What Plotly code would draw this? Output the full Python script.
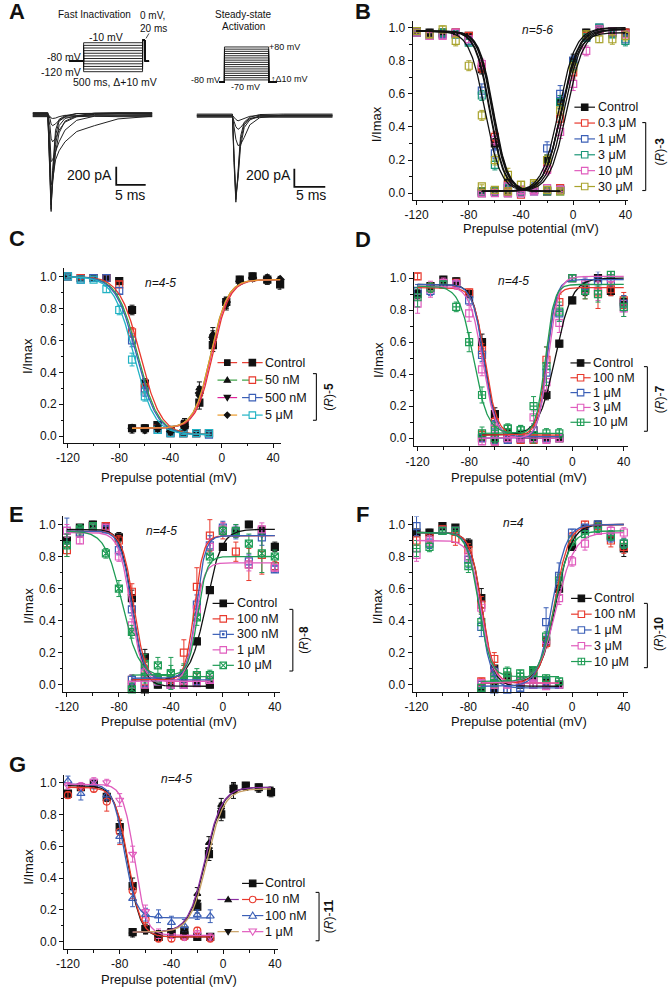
import numpy as np
import plotly.graph_objects as go

W, H = 672, 991
FONT = "Liberation Sans, Arial, Helvetica, sans-serif"
K = "#111111"
RED = "#e8392d"; BLUE = "#3b5fb6"; TEAL = "#1b9678"; PINK = "#e05cbd"; OLIVE = "#a9a32c"
GREEN = "#1f9c55"; CYAN = "#22b3c4"; MAGENTA = "#e0259b"; ORANGE = "#eb9a2a"
PURPLE = "#8b2fa3"; TAN = "#c9a165"; LGREEN = "#3aa043"

# ======================= DATA =======================
# ---- Panel A: protocols and current traces ----
FI_STEPS = [-120, -110, -100, -90, -80, -70, -60, -50, -40, -30, -20, -10]      # mV
FI_HOLD, FI_TEST = -80, 0
FI_DUR = [125, 500, 20, 35]            # holding, prepulse (500 ms), test (20 ms), tail
SSA_STEPS = [-70, -60, -50, -40, -30, -20, -10, 0, 10, 20, 30, 40, 50, 60, 70, 80]
SSA_HOLD = -80
SSA_DUR = [6, 50, 9]

FI_T = [0, 2.6, 2.95, 3.15, 3.4, 3.9, 4.5, 5.5, 7.5, 10.5, 14.5, 20.3]          # ms
FI_I = [                                                                         # pA
    [20, 20, -700, -1075, -620, -170, -50, -10, 15, 20, 20, 20],
    [-20, -20, -650, -1050, -680, -230, -70, -25, -20, -15, -20, -20],
    [5, 5, -600, -1000, -730, -330, -120, -40, -10, 5, 10, 5],
    [25, 25, -520, -930, -770, -420, -200, -70, -10, 20, 25, 25],
    [-15, -15, -380, -780, -720, -500, -400, -300, -185, -120, -45, -15],
    [-10, -10, -250, -520, -500, -400, -300, -170, -60, -15, -10, -10],
    [10, 10, -120, -260, -300, -260, -170, -80, -20, 10, 10, 10],
    [15, 15, -40, -100, -120, -100, -60, -20, 15, 15, 15, 15],
    [-5, -5, -15, -35, -40, -35, -20, -5, -5, -5, -5, -5],
]
SSA_T = [0, 5.8, 6.05, 6.35, 6.7, 7.1, 7.7, 8.6, 10.2, 14.0, 22.0]
SSA_I = [
    [20, 20, -520, -960, -620, -230, -70, -15, 15, 20, 20],
    [-15, -15, -470, -930, -660, -280, -100, -30, -15, -15, -15],
    [0, 0, -420, -880, -700, -340, -130, -45, 0, 0, 0],
    [10, 10, -120, -260, -330, -320, -240, -100, -20, 10, 10],
    [-5, -5, -60, -120, -150, -130, -80, -30, -5, -5, -5],
    [5, 5, -15, -40, -55, -45, -25, -5, 5, 5, 5],
]
SCALE_PA, SCALE_MS = 200, 5

# ---- Prepulse potentials ----
V_INACT = [-120, -110, -100, -90, -80, -70, -60, -50, -40, -30, -20, -10]
V_ACT = [-70, -60, -50, -40, -30, -20, -10, 0, 10, 20, 30, 40]
C_V_ACT = [-70, -60, -50, -40, -29, -17.5, -7, 3.5, 14, 24, 35.5, 45.5]
G_V_ACT = [-70, -60, -50, -40, -30, -20, -11, -1.5, 8, 17.5, 27.5, 37]

# ---- Panel B: (R)-3 ----
B_LABELS = ["Control", "0.3 μM", "1 μM", "3 μM", "10 μM", "30 μM"]
B_INACT = [
    [0.98, 0.97, 0.97, 0.97, 0.95, 0.75, 0.30, 0.06, 0.02, 0.02, 0.01, 0.02],
    [0.97, 0.96, 0.96, 0.97, 0.95, 0.76, 0.34, 0.05, 0.01, 0.02, 0.01, 0.03],
    [0.97, 0.96, 0.96, 0.96, 0.92, 0.62, 0.24, 0.03, 0.00, 0.01, 0.02, 0.02],
    [0.97, 0.95, 0.97, 0.96, 0.91, 0.59, 0.17, 0.04, 0.01, 0.02, 0.01, 0.01],
    [0.97, 0.95, 0.95, 0.97, 0.93, 0.78, 0.32, 0.04, 0.02, 0.01, 0.03, 0.02],
    [0.98, 0.96, 0.99, 0.92, 0.77, 0.47, 0.20, 0.11, 0.05, 0.06, 0.02, 0.01],
]
B_INACT_ERR = [
    [0.01, 0.02, 0.02, 0.01, 0.02, 0.03, 0.03, 0.02, 0.01, 0.01, 0.01, 0.01],
    [0.01, 0.02, 0.02, 0.02, 0.02, 0.03, 0.03, 0.02, 0.01, 0.01, 0.01, 0.01],
    [0.01, 0.02, 0.02, 0.02, 0.02, 0.04, 0.03, 0.02, 0.01, 0.01, 0.01, 0.01],
    [0.01, 0.02, 0.02, 0.02, 0.02, 0.03, 0.03, 0.02, 0.01, 0.01, 0.01, 0.01],
    [0.01, 0.02, 0.02, 0.02, 0.02, 0.03, 0.03, 0.02, 0.01, 0.01, 0.01, 0.01],
    [0.01, 0.02, 0.02, 0.03, 0.03, 0.03, 0.03, 0.04, 0.02, 0.02, 0.01, 0.01],
]
B_ACT = [
    [0.01, 0.01, 0.01, 0.01, 0.03, 0.20, 0.55, 0.80, 0.97, 0.99, 0.98, 0.97],
    [0.00, 0.01, 0.00, -0.01, 0.03, 0.15, 0.45, 0.73, 0.95, 0.99, 0.97, 0.97],
    [0.00, 0.01, 0.00, 0.01, 0.04, 0.27, 0.60, 0.80, 0.94, 1.00, 0.97, 0.93],
    [0.01, 0.01, 0.03, 0.01, 0.03, 0.20, 0.55, 0.77, 0.94, 1.00, 0.96, 0.92],
    [0.00, 0.00, 0.00, 0.00, 0.02, 0.14, 0.37, 0.66, 0.86, 0.99, 0.98, 0.96],
    [0.04, 0.02, 0.01, 0.05, 0.06, 0.20, 0.50, 0.76, 0.96, 0.93, 0.93, 0.95],
]
B_ACT_ERR = [
    [0.01, 0.01, 0.01, 0.01, 0.01, 0.03, 0.04, 0.04, 0.02, 0.01, 0.02, 0.02],
    [0.01, 0.01, 0.01, 0.01, 0.01, 0.03, 0.04, 0.04, 0.02, 0.01, 0.02, 0.02],
    [0.01, 0.01, 0.01, 0.01, 0.01, 0.04, 0.05, 0.03, 0.02, 0.01, 0.02, 0.03],
    [0.01, 0.01, 0.01, 0.01, 0.01, 0.03, 0.04, 0.03, 0.02, 0.01, 0.02, 0.03],
    [0.01, 0.01, 0.01, 0.01, 0.01, 0.03, 0.04, 0.04, 0.03, 0.01, 0.02, 0.02],
    [0.01, 0.01, 0.01, 0.02, 0.01, 0.03, 0.04, 0.03, 0.02, 0.02, 0.03, 0.03],
]
# Boltzmann fits (V1/2 mV, slope k, top, bottom)
B_INACT_FIT = [(-61, 5.5, 0.98, 0.01), (-61.5, 5.5, 0.98, 0.01), (-63.5, 5.5, 0.98, 0.01),
               (-64, 5.5, 0.98, 0.01), (-62, 5.5, 0.98, 0.01), (-67.5, 6, 0.98, 0.01)]
B_ACT_FIT = [(-9, 6.5, 1.0, 0.01), (-7, 6.5, 0.99, 0.01), (-11, 6.5, 1.0, 0.01),
             (-9, 6.5, 0.99, 0.01), (-5, 6.5, 0.99, 0.01), (-9, 6.5, 0.97, 0.01)]

# ---- Panel C: (R)-5 ----
C_LABELS = ["Control", "50 nM", "500 nM", "5 μM"]
C_INACT = [
    [1.00, 0.99, 0.99, 0.99, 0.97, 0.79, 0.33, 0.07, 0.03, 0.02, 0.02, 0.02],
    [1.00, 0.99, 0.99, 0.99, 0.95, 0.65, 0.30, 0.05, 0.02, 0.02, 0.02, 0.02],
    [1.00, 0.98, 0.99, 0.99, 0.91, 0.60, 0.28, 0.04, 0.02, 0.02, 0.02, 0.01],
    [1.00, 0.98, 0.98, 0.92, 0.79, 0.48, 0.25, 0.04, 0.02, 0.02, 0.02, 0.02],
]
C_INACT_ERR = [
    [0.01, 0.01, 0.01, 0.02, 0.02, 0.03, 0.03, 0.02, 0.01, 0.01, 0.01, 0.01],
    [0.01, 0.01, 0.01, 0.02, 0.02, 0.03, 0.03, 0.02, 0.01, 0.01, 0.01, 0.01],
    [0.01, 0.01, 0.01, 0.02, 0.02, 0.04, 0.03, 0.02, 0.01, 0.01, 0.01, 0.01],
    [0.01, 0.01, 0.01, 0.02, 0.03, 0.04, 0.03, 0.02, 0.01, 0.01, 0.01, 0.01],
]
C_ACT = [
    [0.05, 0.05, 0.07, 0.04, 0.07, 0.21, 0.57, 0.84, 0.98, 1.00, 0.98, 0.95],
    [0.05, 0.05, 0.06, 0.03, 0.08, 0.30, 0.64, 0.83, 0.98, 1.00, 0.97, 0.97],
    [0.04, 0.05, 0.06, 0.04, 0.09, 0.25, 0.60, 0.82, 0.97, 0.99, 0.98, 0.96],
    [0.05, 0.04, 0.05, 0.03, 0.06, 0.27, 0.62, 0.84, 0.97, 0.99, 0.99, 0.98],
]
C_ACT_ERR = [
    [0.02, 0.02, 0.02, 0.02, 0.02, 0.04, 0.04, 0.03, 0.02, 0.02, 0.02, 0.03],
    [0.02, 0.02, 0.02, 0.02, 0.03, 0.04, 0.04, 0.03, 0.02, 0.02, 0.02, 0.02],
    [0.02, 0.02, 0.02, 0.02, 0.02, 0.04, 0.04, 0.03, 0.02, 0.02, 0.02, 0.02],
    [0.02, 0.02, 0.02, 0.02, 0.02, 0.04, 0.04, 0.03, 0.02, 0.02, 0.02, 0.02],
]
C_INACT_FIT = [(-63.5, 8, 1.0, 0.01), (-65.5, 8, 1.0, 0.01), (-66.5, 8, 1.0, 0.01), (-68.5, 8, 1.0, 0.01)]
C_ACT_FIT = [(-7, 6.5, 0.98, 0.05), (-8.5, 6.5, 0.98, 0.05), (-8, 6.5, 0.98, 0.05), (-8.5, 6.5, 0.98, 0.05)]

# ---- Panel D: (R)-7 ----
D_LABELS = ["Control", "100 nM", "1 μM", "3 μM", "10 μM"]
D_INACT = [
    [0.90, 0.95, 0.99, 0.98, 0.90, 0.60, 0.15, 0.03, 0.02, 0.00, 0.00, 0.00],
    [1.01, 0.94, 0.96, 0.97, 0.91, 0.55, 0.10, 0.02, 0.00, -0.01, 0.00, 0.00],
    [0.92, 0.92, 0.96, 0.96, 0.86, 0.52, 0.08, 0.00, 0.00, 0.00, 0.00, 0.00],
    [0.84, 0.93, 0.97, 0.96, 0.78, 0.43, 0.06, 0.02, 0.00, 0.00, -0.01, 0.00],
    [0.88, 0.94, 0.96, 0.82, 0.60, 0.27, 0.05, 0.06, 0.05, 0.02, 0.03, 0.03],
]
D_INACT_ERR = [
    [0.03, 0.02, 0.02, 0.02, 0.02, 0.05, 0.04, 0.02, 0.02, 0.02, 0.02, 0.02],
    [0.02, 0.03, 0.02, 0.02, 0.02, 0.04, 0.03, 0.02, 0.02, 0.02, 0.02, 0.02],
    [0.04, 0.03, 0.02, 0.02, 0.03, 0.04, 0.03, 0.02, 0.02, 0.02, 0.02, 0.02],
    [0.06, 0.05, 0.03, 0.03, 0.05, 0.04, 0.03, 0.02, 0.02, 0.02, 0.02, 0.02],
    [0.06, 0.03, 0.02, 0.03, 0.06, 0.05, 0.05, 0.03, 0.03, 0.05, 0.03, 0.03],
]
D_ACT = [
    [0.00, -0.01, 0.00, 0.00, 0.02, 0.27, 0.59, 0.86, 0.93, 1.00, 0.92, 0.85],
    [0.02, -0.02, 0.00, -0.01, 0.05, 0.49, 0.85, 1.00, 0.93, 0.91, 0.93, 0.86],
    [0.00, -0.01, -0.01, 0.00, 0.05, 0.41, 0.78, 1.00, 0.95, 0.98, 0.98, 0.84],
    [-0.02, -0.02, 0.00, 0.01, 0.13, 0.35, 0.72, 1.00, 0.96, 0.92, 1.00, 0.81],
    [0.03, 0.00, 0.06, 0.05, 0.20, 0.45, 0.79, 1.00, 0.92, 0.90, 1.02, 0.82],
]
D_ACT_ERR = [
    [0.02, 0.02, 0.02, 0.02, 0.02, 0.03, 0.02, 0.02, 0.04, 0.02, 0.03, 0.04],
    [0.03, 0.03, 0.02, 0.02, 0.03, 0.08, 0.05, 0.02, 0.06, 0.10, 0.04, 0.05],
    [0.02, 0.03, 0.02, 0.02, 0.04, 0.06, 0.05, 0.02, 0.05, 0.06, 0.04, 0.05],
    [0.02, 0.03, 0.02, 0.02, 0.04, 0.06, 0.06, 0.02, 0.05, 0.06, 0.04, 0.05],
    [0.04, 0.03, 0.02, 0.03, 0.06, 0.12, 0.06, 0.02, 0.05, 0.05, 0.03, 0.06],
]
D_INACT_FIT = [(-68, 4.5, 0.96, 0.00), (-67.5, 4.5, 0.94, 0.02), (-68.5, 4.5, 0.96, 0.01),
               (-69.5, 5, 0.95, 0.00), (-76.5, 5.5, 0.95, 0.03)]
D_ACT_FIT = [(-13, 6.5, 1.0, 0.02), (-20.5, 3.5, 0.94, 0.02), (-19.5, 3.5, 0.99, 0.00),
             (-18.5, 4, 1.01, 0.00), (-21, 3.5, 0.96, 0.03)]

# ---- Panel E: (R)-8 ----
E_LABELS = ["Control", "100 nM", "300 nM", "1 μM", "10 μM"]
E_INACT = [
    [0.90, 0.98, 1.00, 0.99, 0.92, 0.54, 0.17, 0.04, 0.02, 0.00, 0.02, 0.00],
    [0.84, 0.95, 0.99, 0.99, 0.90, 0.58, 0.12, 0.03, 0.00, 0.02, 0.05, 0.03],
    [0.96, 0.95, 0.99, 0.97, 0.84, 0.47, 0.08, 0.04, 0.01, 0.00, 0.02, 0.03],
    [0.96, 0.90, 0.98, 0.98, 0.80, 0.37, 0.07, 0.03, 0.00, 0.00, 0.01, 0.03],
    [0.87, 0.97, 0.99, 0.82, 0.60, 0.33, 0.13, 0.12, 0.07, 0.06, 0.06, 0.06],
]
E_INACT_ERR = [
    [0.04, 0.02, 0.02, 0.02, 0.03, 0.05, 0.05, 0.03, 0.02, 0.02, 0.02, 0.02],
    [0.04, 0.03, 0.02, 0.02, 0.03, 0.05, 0.04, 0.03, 0.02, 0.02, 0.02, 0.02],
    [0.08, 0.03, 0.02, 0.02, 0.03, 0.04, 0.03, 0.02, 0.02, 0.02, 0.02, 0.02],
    [0.04, 0.02, 0.02, 0.02, 0.03, 0.04, 0.03, 0.02, 0.02, 0.02, 0.02, 0.02],
    [0.07, 0.03, 0.02, 0.03, 0.05, 0.04, 0.06, 0.05, 0.10, 0.07, 0.04, 0.03],
]
E_ACT = [
    [-0.02, -0.03, 0.00, 0.00, 0.02, 0.27, 0.59, 0.86, 0.95, 1.00, 0.96, 0.86],
    [0.03, 0.02, 0.03, 0.03, 0.20, 0.61, 0.93, 0.96, 0.83, 0.75, 0.81, 0.74],
    [0.03, 0.01, 0.02, 0.00, 0.04, 0.50, 0.87, 0.98, 0.95, 0.77, 0.92, 0.72],
    [0.00, 0.00, 0.02, 0.01, 0.03, 0.47, 0.86, 0.97, 0.96, 0.75, 0.97, 0.73],
    [-0.03, 0.05, 0.03, 0.07, 0.07, 0.42, 0.80, 0.96, 0.96, 0.88, 0.82, 0.80],
]
E_ACT_ERR = [
    [0.02, 0.02, 0.02, 0.02, 0.02, 0.02, 0.02, 0.02, 0.03, 0.02, 0.03, 0.03],
    [0.03, 0.03, 0.02, 0.02, 0.08, 0.12, 0.10, 0.05, 0.06, 0.10, 0.12, 0.03],
    [0.03, 0.02, 0.02, 0.02, 0.03, 0.06, 0.06, 0.04, 0.04, 0.04, 0.05, 0.02],
    [0.02, 0.02, 0.02, 0.02, 0.03, 0.06, 0.05, 0.04, 0.04, 0.04, 0.04, 0.02],
    [0.04, 0.04, 0.03, 0.05, 0.05, 0.05, 0.04, 0.03, 0.04, 0.06, 0.12, 0.04],
]
E_INACT_FIT = [(-69.5, 4.5, 0.97, -0.01), (-68.5, 4.5, 0.96, 0.02), (-70, 4.5, 0.96, 0.03),
               (-71, 4.5, 0.95, 0.02), (-77.5, 6.5, 0.96, 0.05)]
E_ACT_FIT = [(-13, 6, 0.97, 0.03), (-22, 3.5, 0.93, 0.03), (-20.5, 3.5, 0.93, 0.04),
             (-21.5, 3.5, 0.76, 0.02), (-19.5, 3.5, 0.80, 0.06)]

# ---- Panel F: (R)-10 ----
F_LABELS = ["Control", "100 nM", "1 μM", "3 μM", "10 μM"]
F_INACT = [
    [0.95, 0.95, 0.99, 0.98, 0.88, 0.54, 0.10, 0.04, 0.02, 0.05, 0.02, 0.00],
    [0.90, 0.92, 0.97, 0.91, 0.84, 0.50, 0.16, 0.05, 0.02, 0.00, 0.00, 0.00],
    [0.99, 0.88, 0.96, 0.96, 0.78, 0.36, 0.08, -0.03, -0.02, 0.00, 0.02, 0.00],
    [0.81, 0.90, 0.96, 0.96, 0.80, 0.48, 0.07, 0.00, 0.02, 0.00, -0.01, 0.00],
    [0.85, 0.86, 0.96, 0.96, 0.74, 0.39, 0.05, 0.08, 0.07, 0.08, 0.04, 0.02],
]
F_INACT_ERR = [
    [0.02, 0.02, 0.02, 0.02, 0.03, 0.06, 0.04, 0.02, 0.02, 0.02, 0.02, 0.02],
    [0.03, 0.03, 0.02, 0.04, 0.04, 0.05, 0.04, 0.02, 0.02, 0.02, 0.02, 0.02],
    [0.06, 0.03, 0.02, 0.02, 0.05, 0.06, 0.03, 0.02, 0.02, 0.02, 0.02, 0.02],
    [0.04, 0.03, 0.02, 0.02, 0.03, 0.04, 0.03, 0.02, 0.02, 0.02, 0.02, 0.02],
    [0.05, 0.03, 0.02, 0.02, 0.04, 0.05, 0.03, 0.03, 0.02, 0.03, 0.02, 0.02],
]
F_ACT = [
    [-0.02, -0.02, 0.03, 0.00, 0.09, 0.27, 0.60, 0.86, 0.97, 1.00, 0.93, 0.85],
    [0.02, 0.00, 0.05, 0.01, 0.04, 0.26, 0.65, 0.92, 1.00, 0.99, 0.90, 0.86],
    [0.00, -0.03, -0.03, 0.01, 0.03, 0.39, 0.68, 0.95, 0.98, 1.00, 0.92, 0.88],
    [0.01, 0.00, 0.03, 0.02, 0.05, 0.28, 0.54, 0.77, 0.88, 0.96, 0.96, 0.95],
    [-0.02, 0.01, 0.05, 0.05, 0.09, 0.30, 0.65, 0.90, 0.94, 0.98, 0.93, 0.88],
]
F_ACT_ERR = [
    [0.02, 0.02, 0.02, 0.02, 0.02, 0.03, 0.04, 0.02, 0.02, 0.02, 0.03, 0.05],
    [0.02, 0.02, 0.02, 0.02, 0.02, 0.03, 0.05, 0.03, 0.02, 0.02, 0.04, 0.04],
    [0.02, 0.02, 0.02, 0.02, 0.02, 0.09, 0.08, 0.02, 0.02, 0.02, 0.03, 0.03],
    [0.02, 0.02, 0.02, 0.02, 0.02, 0.03, 0.04, 0.03, 0.04, 0.02, 0.03, 0.03],
    [0.02, 0.02, 0.02, 0.02, 0.02, 0.03, 0.04, 0.03, 0.02, 0.03, 0.03, 0.03],
]
F_INACT_FIT = [(-69.5, 4.5, 0.95, -0.01), (-69.5, 4.5, 0.95, 0.01), (-71, 4.5, 0.95, -0.02),
               (-70, 4.5, 0.90, 0.01), (-72, 4.5, 0.95, 0.05)]
F_ACT_FIT = [(-12.5, 6, 1.0, 0.01), (-13.5, 5.5, 1.0, 0.01), (-15.5, 5.5, 1.0, -0.01),
             (-12, 7, 0.95, 0.01), (-13.5, 6, 0.96, 0.02)]

# ---- Panel G: (R)-11 ----
G_LABELS = ["Control", "10 nM", "100 nM", "1 μM"]
G_INACT = [
    [0.93, 0.97, 0.99, 0.91, 0.72, 0.35, 0.08, 0.03, 0.05, 0.04, 0.03, 0.03],
    [0.92, 0.97, 0.96, 0.88, 0.69, 0.32, 0.14, 0.02, 0.02, 0.03, 0.07, 0.02],
    [1.01, 0.93, 0.99, 0.92, 0.66, 0.27, 0.17, 0.16, 0.12, 0.10, 0.17, 0.16],
    [0.98, 0.98, 1.01, 1.00, 0.89, 0.55, 0.19, 0.05, 0.04, 0.03, 0.05, 0.03],
]
G_INACT_ERR = [
    [0.02, 0.02, 0.02, 0.03, 0.04, 0.05, 0.03, 0.02, 0.02, 0.02, 0.02, 0.02],
    [0.02, 0.02, 0.02, 0.06, 0.08, 0.05, 0.04, 0.02, 0.02, 0.02, 0.02, 0.02],
    [0.03, 0.04, 0.03, 0.03, 0.04, 0.05, 0.04, 0.04, 0.04, 0.04, 0.03, 0.04],
    [0.02, 0.02, 0.02, 0.02, 0.04, 0.05, 0.04, 0.03, 0.02, 0.02, 0.02, 0.02],
]
G_ACT = [
    [0.06, 0.08, 0.03, 0.06, 0.07, 0.22, 0.55, 0.80, 0.96, 0.98, 0.97, 0.94],
    [0.06, 0.07, 0.04, 0.05, 0.06, 0.30, 0.62, 0.86, 0.95, 0.97, 0.96, 0.95],
    [0.05, 0.07, 0.05, 0.06, 0.05, 0.25, 0.58, 0.83, 0.96, 0.98, 0.96, 0.94],
]
G_ACT_ERR = [
    [0.02, 0.02, 0.02, 0.02, 0.02, 0.04, 0.04, 0.04, 0.03, 0.02, 0.02, 0.03],
    [0.02, 0.02, 0.02, 0.02, 0.02, 0.04, 0.04, 0.04, 0.05, 0.02, 0.02, 0.02],
    [0.02, 0.02, 0.02, 0.02, 0.02, 0.04, 0.04, 0.04, 0.03, 0.02, 0.02, 0.02],
]
G_INACT_FIT = [(-74, 5, 0.98, 0.03), (-73.5, 5, 0.97, 0.03), (-76.5, 4.5, 0.99, 0.15), (-68.5, 4.5, 0.99, 0.04)]
G_ACT_FIT = [(-13.5, 6.5, 0.97, 0.06), (-14, 6.5, 0.97, 0.06), (-12.5, 6.5, 0.96, 0.06)]

# ======================= HELPERS =======================
fig = go.Figure()
lay = dict(width=W, height=H, margin=dict(l=0, r=0, t=0, b=0), paper_bgcolor="white",
           plot_bgcolor="rgba(0,0,0,0)", showlegend=False)
shapes, annos = [], []


def P(x, y):
    return x / W, 1 - y / H


def text(x, y, s, size=12, xanchor="center", yanchor="middle", angle=0):
    ax, ay = P(x, y)
    annos.append(dict(xref="paper", yref="paper", x=ax, y=ay, text=s, showarrow=False,
                      xanchor=xanchor, yanchor=yanchor, textangle=angle, borderpad=0,
                      font=dict(family=FONT, size=size, color=K)))


def seg(x0, y0, x1, y1, color=K, width=1.0):
    a, b = P(x0, y0)
    c, d = P(x1, y1)
    shapes.append(dict(type="line", xref="paper", yref="paper", x0=a, y0=b, x1=c, y1=d,
                       line=dict(color=color, width=width)))


def key_marker(x, y, symbol, color, size=6.5):
    ax, ay = P(x, y)
    h = size / 2
    base = dict(xref="paper", yref="paper", xsizemode="pixel", ysizemode="pixel",
                xanchor=ax, yanchor=ay, line=dict(color=color, width=1.1))
    opened = "-open" in symbol
    kind = symbol.replace("-open", "")
    fill = "white" if opened else color
    if kind.startswith("square"):
        shapes.append(dict(type="rect", x0=-h, x1=h, y0=-h, y1=h, fillcolor=fill, **base))
        if kind == "square-cross":
            shapes.append(dict(type="path", path=f"M {-h},0 L {h},0 M 0,{-h} L 0,{h}", **base))
        elif kind == "square-x":
            shapes.append(dict(type="path", path=f"M {-h},{-h} L {h},{h} M {-h},{h} L {h},{-h}", **base))
        elif kind == "square-dot":
            shapes.append(dict(type="rect", x0=-0.7, x1=0.7, y0=-0.7, y1=0.7, fillcolor=color, **base))
    elif kind == "circle":
        shapes.append(dict(type="circle", x0=-h, x1=h, y0=-h, y1=h, fillcolor=fill, **base))
    elif kind == "triangle-up":
        shapes.append(dict(type="path", path=f"M {-h*1.15},{-h*0.8} L {h*1.15},{-h*0.8} L 0,{h*1.1} Z",
                           fillcolor=fill, **base))
    elif kind == "triangle-down":
        shapes.append(dict(type="path", path=f"M {-h*1.15},{h*0.8} L {h*1.15},{h*0.8} L 0,{-h*1.1} Z",
                           fillcolor=fill, **base))
    elif kind == "diamond":
        shapes.append(dict(type="path", path=f"M 0,{h*1.1} L {h*1.1},0 L 0,{-h*1.1} L {-h*1.1},0 Z",
                           fillcolor=fill, **base))


AX = dict(showline=True, linecolor=K, linewidth=1, ticks="outside", ticklen=4, tickwidth=1,
          tickcolor=K, showgrid=False, zeroline=False, mirror=False, fixedrange=True,
          tickfont=dict(family=FONT, size=12, color=K))
XT = [-120, -80, -40, 0, 40]
YT = [0.0, 0.2, 0.4, 0.6, 0.8, 1.0]


def set_axes(i, xpx, ypx, xr, yr, visible=True):
    s = "" if i == 1 else str(i)
    xd = [xpx[0] / W, xpx[1] / W]
    yd = [1 - ypx[1] / H, 1 - ypx[0] / H]
    if visible:
        xa = dict(domain=xd, range=xr, anchor="y" + s, tickmode="array", tickvals=XT,
                  ticktext=[str(v) for v in XT],
                  minor=dict(tickvals=[-100, -60, -20, 20], ticks="outside", ticklen=2.5,
                             tickcolor=K, tickwidth=1, showgrid=False), **AX)
        ya = dict(domain=yd, range=yr, anchor="x" + s, tickmode="array", tickvals=YT,
                  ticktext=[f"{v:.1f}" for v in YT],
                  minor=dict(tickvals=[0.1, 0.3, 0.5, 0.7, 0.9], ticks="outside", ticklen=2.5,
                             tickcolor=K, tickwidth=1, showgrid=False), **AX)
    else:
        xa = dict(domain=xd, range=xr, anchor="y" + s, visible=False, fixedrange=True)
        ya = dict(domain=yd, range=yr, anchor="x" + s, visible=False, fixedrange=True)
    lay["xaxis" + s] = xa
    lay["yaxis" + s] = ya
    return "x" + s, "y" + s


def boltz(v, fit, inact=True):
    vh, k, top, bot = fit
    v = np.asarray(v, float)
    z = (v - vh) / k if inact else (vh - v) / k
    return bot + (top - bot) / (1 + np.exp(z))


def add_points(xa, ya, xs, ys, err, symbol, color, size=7):
    fig.add_trace(go.Scatter(
        x=xs, y=ys, mode="markers", xaxis=xa, yaxis=ya, cliponaxis=False,
        marker=dict(symbol=symbol, size=size, color=color, line=dict(color=color, width=1.2)),
        error_y=dict(type="data", array=err, color=color, thickness=1, width=2.5),
        hoverinfo="skip"))


def add_fit(xa, ya, lo, hi, fit, inact, color, width=1.3):
    vv = np.linspace(lo, hi, 240)
    fig.add_trace(go.Scatter(x=vv, y=boltz(vv, fit, inact), mode="lines", xaxis=xa, yaxis=ya,
                             line=dict(color=color, width=width), hoverinfo="skip"))


# ======================= PANEL A =======================
xa, ya = set_axes(7, (62, 146), (37.5, 74.4), [0, 700], [-130, 10], visible=False)
t1 = FI_DUR[0]; t2 = t1 + FI_DUR[1]; t3 = t2 + FI_DUR[2]; t4 = t3 + FI_DUR[3]
for v in FI_STEPS:
    fig.add_trace(go.Scatter(x=[0, t1, t1, t2, t2, t3, t3, t4],
                             y=[FI_HOLD, FI_HOLD, v, v, FI_TEST, FI_TEST, FI_HOLD, FI_HOLD],
                             mode="lines", xaxis=xa, yaxis=ya, line=dict(color=K, width=0.9),
                             hoverinfo="skip"))
xa, ya = set_axes(8, (215, 274.4), (45.9, 83.3), [0, 66], [-85, 85], visible=False)
s1 = SSA_DUR[0]; s2 = s1 + SSA_DUR[1]; s3 = s2 + SSA_DUR[2]
for v in SSA_STEPS:
    fig.add_trace(go.Scatter(x=[0, s1, s1, s2, s2, s3], y=[SSA_HOLD, SSA_HOLD, v, v, SSA_HOLD, SSA_HOLD],
                             mode="lines", xaxis=xa, yaxis=ya, line=dict(color=K, width=0.9),
                             hoverinfo="skip"))
xa, ya = set_axes(9, (25, 151), (106, 218.5), [0, 21], [-1150, 100], visible=False)
for tr in FI_I:
    fig.add_trace(go.Scatter(x=FI_T, y=tr, mode="lines", xaxis=xa, yaxis=ya,
                             line=dict(color="#222222", width=1.0), hoverinfo="skip"))
fig.add_trace(go.Scatter(x=[14.2, 14.2, 14.2 + SCALE_MS], y=[-778 + SCALE_PA, -778, -778],
                         mode="lines", xaxis=xa, yaxis=ya, line=dict(color=K, width=1.8)))
xa, ya = set_axes(10, (192, 330.6), (107, 219.5), [0, 22], [-1150, 100], visible=False)
for tr in SSA_I:
    fig.add_trace(go.Scatter(x=SSA_T, y=tr, mode="lines", xaxis=xa, yaxis=ya,
                             line=dict(color="#222222", width=1.0), hoverinfo="skip"))
fig.add_trace(go.Scatter(x=[15.8, 15.8, 15.8 + SCALE_MS], y=[-789 + SCALE_PA, -789, -789],
                         mode="lines", xaxis=xa, yaxis=ya, line=dict(color=K, width=1.8)))

text(88, 15, "Fast Inactivation", 10)
text(133, 16, "0 mV,", 10, xanchor="left")
text(133, 29, "20 ms", 10, xanchor="left")
seg(143.5, 33.5, 140.5, 38.5, K, 0.8)
text(100, 37, "-10 mV", 10.5)
text(75, 57, "-80 mV", 10.5, xanchor="right")
text(75, 72, "-120 mV", 10.5, xanchor="right")
text(109, 82, "500 ms, Δ+10 mV", 10.5)
text(240, 15, "Steady-state", 10)
text(240, 27, "Activation", 10)
text(265, 47, "+80 mV", 9, xanchor="left")
text(217, 80, "-80 mV", 9, xanchor="right")
text(242, 87.5, "-70 mV", 9)
text(267, 79, "↑Δ10 mV", 9, xanchor="left")
text(107, 175, "200 pA", 14, xanchor="right")
text(124, 195, "5 ms", 14)
text(289, 175, "200 pA", 14, xanchor="right")
text(308, 195, "5 ms", 14)

# ======================= PANELS B-G =======================
PANELS = [
    dict(letter="B", lpos=(361, 12), i=1, xpx=(412.0, 631.3), ypx=(21.1, 199.9), xr=[-123, 42], yr=[-0.04, 1.04],
         n="n=5-6", npos=(538.7, 30), ytitle=(376, 124), xtitle=(533, 229), tag="(<i>R</i>)-<b>3</b>",
         bracket=(649.3, 122.7, 190.7), tagpos=(663.5, 152)),
    dict(letter="C", lpos=(9, 238.5), i=2, xpx=(57.1, 278.4), ypx=(268.7, 443.1), xr=[-123, 46.5], yr=[-0.04, 1.05],
         n="n=4-5", npos=(155, 283.3), ytitle=(20, 356.7), xtitle=(164, 478.3), tag="(<i>R</i>)-<b>5</b>",
         bracket=(314, 374, 420.7), tagpos=(326, 397)),
    dict(letter="D", lpos=(361, 240), i=3, xpx=(413.1, 630.9), ypx=(271.9, 446.7), xr=[-123, 43], yr=[-0.05, 1.04],
         n="n=4-5", npos=(514.3, 281.7), ytitle=(377, 360), xtitle=(520, 477.7), tag="(<i>R</i>)-<b>7</b>",
         bracket=(651, 367, 431.7), tagpos=(663.5, 400)),
    dict(letter="E", lpos=(9, 515), i=4, xpx=(56.0, 277.0), ypx=(517.0, 692.7), xr=[-123, 44], yr=[-0.046, 1.05],
         n="n=4-5", npos=(156.7, 531.7), ytitle=(20, 606.7), xtitle=(164, 722.7), tag="(<i>R</i>)-<b>8</b>",
         bracket=(290, 610, 671.7), tagpos=(301.7, 640)),
    dict(letter="F", lpos=(361, 515), i=5, xpx=(412.0, 631.0), ypx=(517.0, 692.7), xr=[-123, 43], yr=[-0.046, 1.05],
         n="n=4", npos=(514.3, 524), ytitle=(376, 606.7), xtitle=(520, 722.7), tag="(<i>R</i>)-<b>10</b>",
         bracket=(651, 604, 668.3), tagpos=(663.5, 635)),
    dict(letter="G", lpos=(10, 765), i=6, xpx=(57.1, 274.4), ypx=(775.3, 950.0), xr=[-123, 42], yr=[-0.046, 1.05],
         n="n=4-5", npos=(171.7, 780), ytitle=(20, 868), xtitle=(164, 980), tag="(<i>R</i>)-<b>11</b>",
         bracket=(316.7, 893.3, 941.7), tagpos=(327, 917)),
]

STYLE = {
    "B": [("square", K, K, "square", K, K), ("square-open", RED, K, "square-open", RED, K),
          ("square-open", BLUE, K, "square-open", BLUE, K), ("square-open", TEAL, K, "square-open", TEAL, K),
          ("square-open", PINK, K, "square-open", PINK, K), ("square-open", OLIVE, K, "square-open", OLIVE, K)],
    "C": [("square", K, RED, "square", K, RED), ("square-open", RED, LGREEN, "triangle-up", K, LGREEN),
          ("square-open", BLUE, BLUE, "triangle-down", K, MAGENTA), ("square-open", CYAN, CYAN, "diamond", K, ORANGE)],
    "D": [("square", K, K, "square", K, K), ("square-open", RED, RED, "square-open", RED, RED),
          ("square-open", BLUE, BLUE, "square-open", BLUE, BLUE), ("square-open", PINK, PINK, "square-open", PINK, PINK),
          ("square-cross-open", GREEN, GREEN, "square-cross-open", GREEN, GREEN)],
    "E": [("square", K, K, "square", K, K), ("square-open", RED, RED, "square-open", RED, RED),
          ("square-open-dot", BLUE, BLUE, "square-open-dot", BLUE, BLUE), ("square-open", PINK, PINK, "square-open", PINK, PINK),
          ("square-x-open", GREEN, GREEN, "square-x-open", GREEN, GREEN)],
    "F": [("square", K, K, "square", K, K), ("square-open", RED, RED, "square-open", RED, RED),
          ("square-open", BLUE, BLUE, "square-open", BLUE, BLUE), ("square-open", PINK, PINK, "square-open", PINK, PINK),
          ("square-cross-open", GREEN, GREEN, "square-cross-open", GREEN, GREEN)],
    "G": [("square", K, K, "square", K, K), ("circle-open", RED, RED, "triangle-up", K, PURPLE),
          ("triangle-up-open", BLUE, BLUE, None, None, None), ("triangle-down-open", PINK, PINK, "triangle-down", K, TAN)],
}
DATA = {
    "B": (B_LABELS, B_INACT, B_INACT_ERR, B_INACT_FIT, V_ACT, B_ACT, B_ACT_ERR, B_ACT_FIT),
    "C": (C_LABELS, C_INACT, C_INACT_ERR, C_INACT_FIT, C_V_ACT, C_ACT, C_ACT_ERR, C_ACT_FIT),
    "D": (D_LABELS, D_INACT, D_INACT_ERR, D_INACT_FIT, V_ACT, D_ACT, D_ACT_ERR, D_ACT_FIT),
    "E": (E_LABELS, E_INACT, E_INACT_ERR, E_INACT_FIT, V_ACT, E_ACT, E_ACT_ERR, E_ACT_FIT),
    "F": (F_LABELS, F_INACT, F_INACT_ERR, F_INACT_FIT, V_ACT, F_ACT, F_ACT_ERR, F_ACT_FIT),
    "G": (G_LABELS, G_INACT, G_INACT_ERR, G_INACT_FIT, G_V_ACT, G_ACT, G_ACT_ERR, G_ACT_FIT),
}
LEGEND = {
    "B": dict(y0=107.3, dy=15.88, cols=[(576.7, 597.7)], tx=599.5, single=True),
    "C": dict(y0=363.0, dy=17.5, cols=[(213.3, 233.3), (238.3, 259.3)], tx=261.0, single=False),
    "D": dict(y0=363.3, dy=14.85, cols=[(572.7, 593.3)], tx=594.5, single=True),
    "E": dict(y0=604.0, dy=15.5, cols=[(208.3, 230.0)], tx=232.3, single=True),
    "F": dict(y0=599.0, dy=15.8, cols=[(573.3, 594.3)], tx=595.5, single=True),
    "G": dict(y0=884.3, dy=16.1, cols=[(213.3, 235.0), (238.3, 260.0)], tx=261.0, single=False),
}

for p in PANELS:
    L = p["letter"]
    labels, inact, inact_err, inact_fit, vact, act, act_err, act_fit = DATA[L]
    sty = STYLE[L]
    xa, ya = set_axes(p["i"], p["xpx"], p["ypx"], p["xr"], p["yr"])
    ai = 0
    act_series = []
    for j in range(len(labels)):
        ms_i, c_i, fc_i, ms_a, c_a, fc_a = sty[j]
        add_points(xa, ya, V_INACT, inact[j], inact_err[j], ms_i, c_i)
        if ms_a is not None:
            sz = 6 if L in ("C", "G") and j > 0 else 7
            add_points(xa, ya, vact, act[ai], act_err[ai], ms_a, c_a, size=sz)
            act_series.append((ai, fc_a))
            ai += 1
    for j in range(len(labels)):
        add_fit(xa, ya, -120, -10, inact_fit[j], True, sty[j][2])
    for ai, fc in act_series:
        add_fit(xa, ya, -70, max(vact), act_fit[ai], False, fc)

    text(*p["lpos"], f"<b>{L}</b>", 22)
    text(*p["npos"], f"<i>{p['n']}</i>", 12)
    text(*p["ytitle"], "I/Imax", 13, angle=-90)
    text(*p["xtitle"], "Prepulse potential (mV)", 13)

    lg = LEGEND[L]
    for j, lab in enumerate(labels):
        yy = lg["y0"] + j * lg["dy"]
        ms_i, c_i, fc_i, ms_a, c_a, fc_a = sty[j]
        if lg["single"]:
            x0, x1 = lg["cols"][0]
            seg(x0, yy, x1, yy, c_i, 1.2)
            key_marker((x0 + x1) / 2, yy, ms_i, c_i)
        else:
            (a0, a1), (b0, b1) = lg["cols"]
            if L == "C":
                seg(a0, yy, a1, yy, fc_a, 1.2)
                key_marker((a0 + a1) / 2, yy, ms_a, K, 5.5)
                seg(b0, yy, b1, yy, fc_i, 1.2)
                key_marker((b0 + b1) / 2, yy, ms_i, c_i)
            else:
                if j > 0 and ms_a is not None:
                    seg(a0, yy, a1, yy, fc_a, 1.2)
                    key_marker((a0 + a1) / 2, yy, ms_a, K, 5.5)
                seg(b0, yy, b1, yy, fc_i, 1.2)
                key_marker((b0 + b1) / 2, yy, ms_i, c_i)
        text(lg["tx"], yy, lab, 12.5, xanchor="left")

    bx, by0, by1 = p["bracket"]
    seg(bx, by0, bx, by1, K, 1.1)
    seg(bx - 3.5, by0, bx, by0, K, 1.1)
    seg(bx - 3.5, by1, bx, by1, K, 1.1)
    text(*p["tagpos"], p["tag"], 12, angle=-90)

text(9, 12, "<b>A</b>", 22)

lay["shapes"] = shapes
lay["annotations"] = annos
fig.update_layout(**lay)
fig.write_html("out.html", config={"displayModeBar": False, "staticPlot": True},
               post_script="document.body.style.margin='0px';document.body.style.overflow='hidden';")
